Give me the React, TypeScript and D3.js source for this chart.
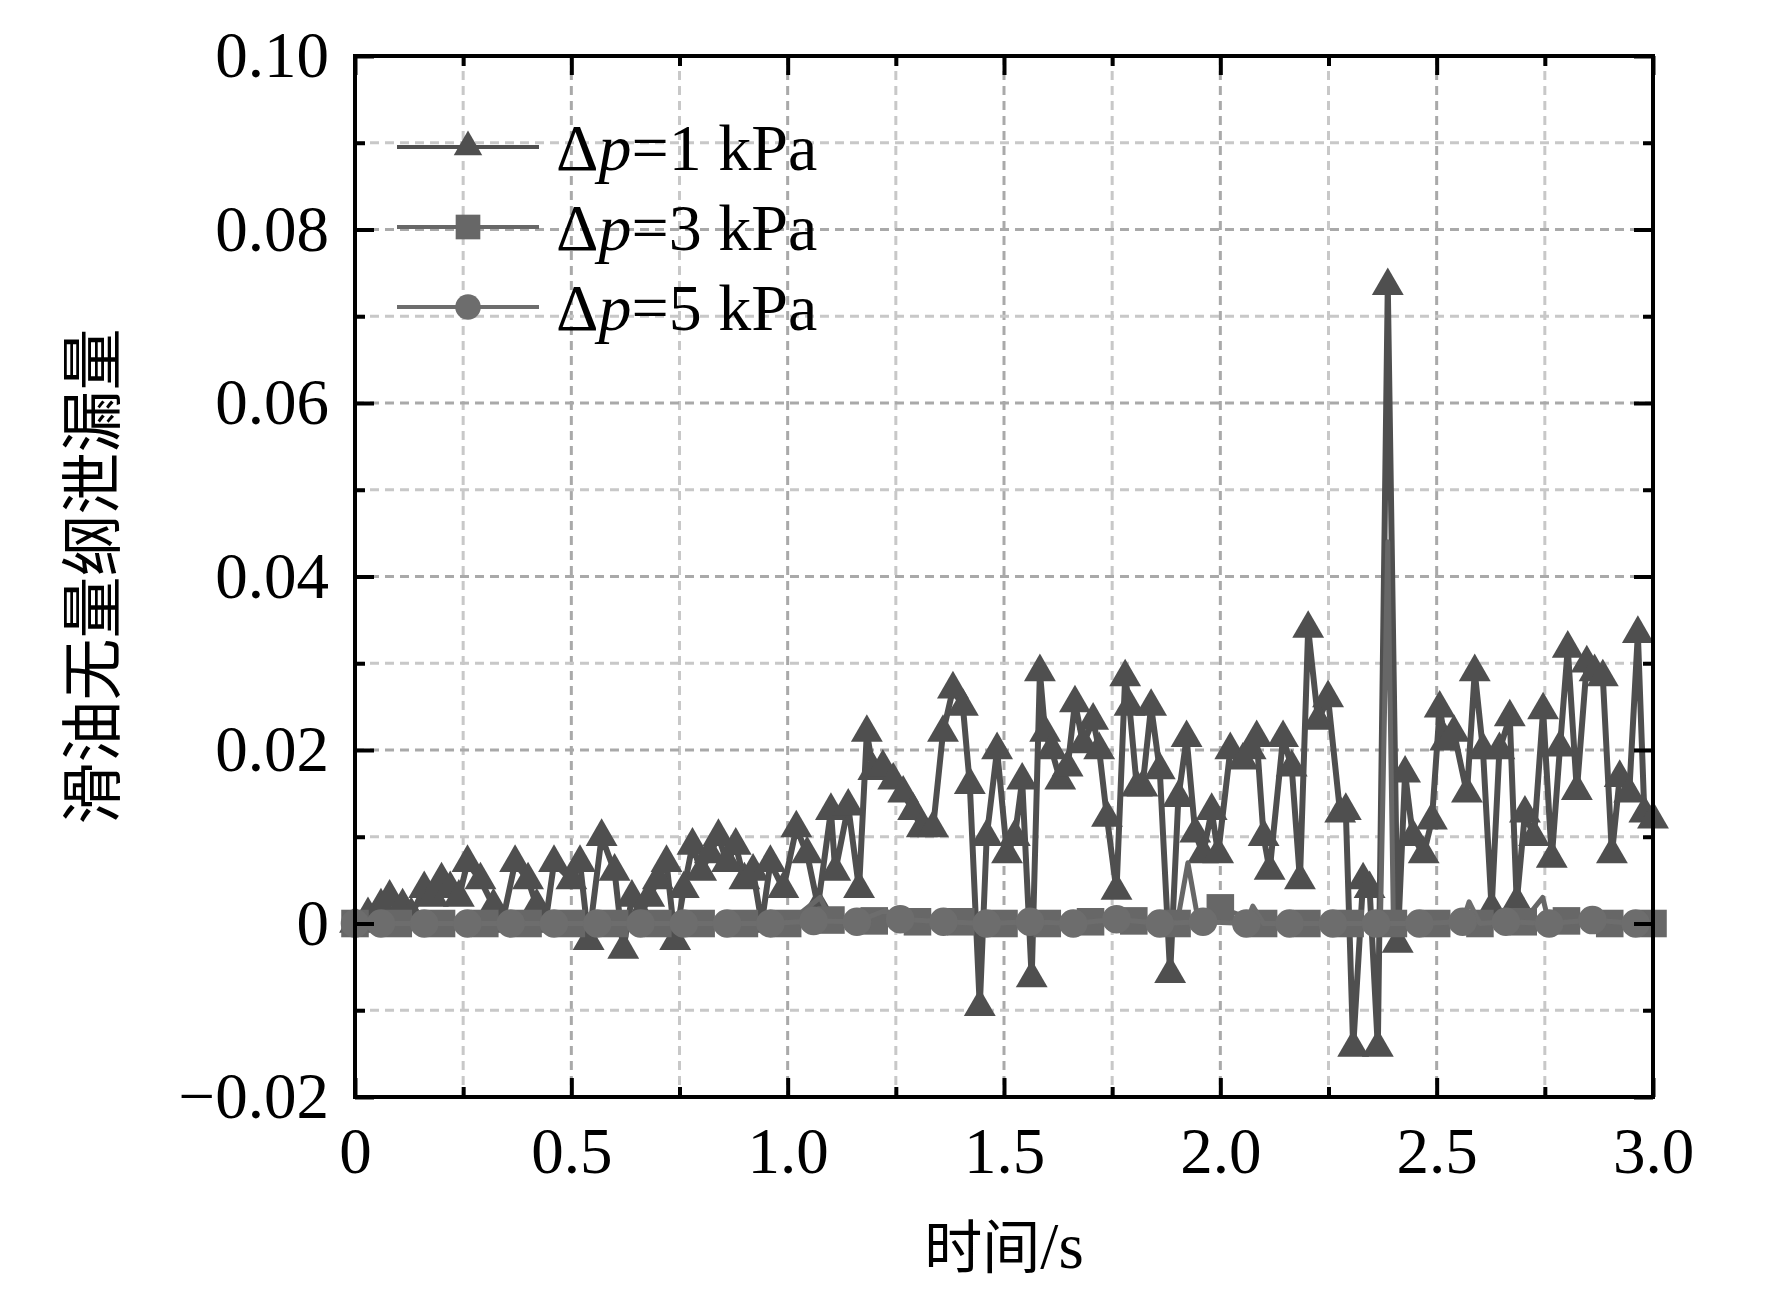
import {
  axisBottom,
  axisLeft,
  axisRight,
  axisTop,
  line as d3Line,
  scaleLinear,
  select,
  symbol,
  symbolCircle,
  symbolSquare,
  symbolTriangle,
} from "d3";
import { useEffect, useRef } from "react";

// [time (s), dimensionless oil leakage]
const dp1: [number, number][] = [
  [0, 0], [0.03, 0.001], [0.06, 0.002], [0.08, 0.003], [0.11, 0.002], [0.13, 0.001],
  [0.16, 0.004], [0.18, 0.003], [0.2, 0.005], [0.22, 0.004], [0.24, 0.003], [0.26, 0.007],
  [0.29, 0.005], [0.32, 0.002], [0.34, 0], [0.37, 0.007], [0.4, 0.005], [0.42, 0.002],
  [0.44, 0], [0.46, 0.007], [0.5, 0.005], [0.52, 0.007], [0.54, -0.002], [0.57, 0.01],
  [0.6, 0.006], [0.62, -0.003], [0.64, 0.003], [0.66, 0.001], [0.68, 0.003], [0.7, 0.005],
  [0.72, 0.007], [0.74, -0.002], [0.76, 0.004], [0.78, 0.009], [0.8, 0.006], [0.82, 0.008],
  [0.84, 0.01], [0.86, 0.007], [0.88, 0.009], [0.9, 0.005], [0.92, 0.006], [0.94, 0],
  [0.96, 0.007], [0.99, 0.004], [1.02, 0.011], [1.045, 0.008], [1.07, 0.002], [1.1, 0.013],
  [1.11, 0.006], [1.14, 0.0135], [1.165, 0.004], [1.183, 0.022], [1.198, 0.0176], [1.22, 0.018],
  [1.244, 0.0165], [1.267, 0.015], [1.29, 0.013], [1.31, 0.011], [1.336, 0.011], [1.359, 0.022],
  [1.382, 0.027], [1.405, 0.025], [1.421, 0.016], [1.444, -0.0096], [1.46, 0.01], [1.484, 0.02],
  [1.507, 0.008], [1.525, 0.01], [1.542, 0.0165], [1.564, -0.0063], [1.583, 0.029], [1.595, 0.022],
  [1.61, 0.02], [1.63, 0.0165], [1.647, 0.018], [1.664, 0.0254], [1.683, 0.0207], [1.706, 0.0234],
  [1.72, 0.02], [1.738, 0.0122], [1.76, 0.0038], [1.78, 0.0284], [1.79, 0.025], [1.807, 0.0157],
  [1.82, 0.0157], [1.84, 0.025], [1.86, 0.0177], [1.884, -0.0058], [1.903, 0.0145], [1.922, 0.0214],
  [1.942, 0.0104], [1.96, 0.008], [1.98, 0.013], [1.995, 0.008], [2.023, 0.02], [2.052, 0.0188],
  [2.07, 0.02], [2.084, 0.0214], [2.1, 0.01], [2.114, 0.0061], [2.145, 0.0214], [2.165, 0.018],
  [2.184, 0.005], [2.203, 0.034], [2.226, 0.0234], [2.249, 0.026], [2.277, 0.0127], [2.29, 0.013],
  [2.307, -0.0143], [2.33, 0.005], [2.345, 0.004], [2.364, -0.0143], [2.387, 0.0735], [2.41, -0.0023],
  [2.427, 0.0173], [2.445, 0.01], [2.47, 0.008], [2.489, 0.0119], [2.507, 0.0248], [2.52, 0.021],
  [2.54, 0.022], [2.57, 0.015], [2.588, 0.029], [2.607, 0.02], [2.627, 0.0017], [2.645, 0.02],
  [2.669, 0.0238], [2.685, 0.0024], [2.704, 0.0127], [2.725, 0.01], [2.746, 0.0246], [2.766, 0.0075],
  [2.785, 0.0203], [2.803, 0.0317], [2.824, 0.0153], [2.847, 0.03], [2.865, 0.029], [2.884, 0.0284],
  [2.905, 0.008], [2.923, 0.0168], [2.945, 0.015], [2.965, 0.0334], [2.98, 0.0127], [3.0, 0.012],
];

const dp3: [number, number][] = [
  [0, 0], [0.1, 0], [0.2, 0], [0.3, 0], [0.4, 0], [0.5, 0], [0.6, 0], [0.7, 0], [0.8, 0],
  [0.9, 0], [1.0, 0], [1.075, 0.003], [1.1, 0.0004], [1.2, 0.0003], [1.3, 0.0002], [1.4, 0.0002],
  [1.5, 0], [1.6, 0], [1.7, 0.0002], [1.8, 0.0003], [1.9, 0], [1.925, 0.007], [1.95, 0],
  [2.0, 0.0018], [2.1, 0], [2.2, 0], [2.3, 0], [2.37, 0], [2.387, 0.044], [2.4, 0], [2.5, 0],
  [2.6, 0], [2.7, 0.0002], [2.745, 0.003], [2.76, 0], [2.8, 0.0003], [2.9, 0], [3.0, 0],
];

const dp5: [number, number][] = [
  [0, 0], [0.06, 0], [0.16, 0], [0.26, 0], [0.36, 0], [0.46, 0], [0.56, 0], [0.66, 0],
  [0.76, 0], [0.86, 0], [0.96, 0], [1.06, 0.0003], [1.16, 0.0002], [1.225, 0.0015], [1.26, 0.0005],
  [1.36, 0.0002], [1.46, 0], [1.56, 0.0002], [1.66, 0], [1.76, 0.0005], [1.86, 0], [1.96, 0.0002],
  [2.06, 0], [2.075, 0.002], [2.1, 0], [2.16, 0], [2.26, 0], [2.36, 0], [2.46, 0], [2.56, 0.0002],
  [2.575, 0.0025], [2.6, 0], [2.66, 0.0002], [2.76, 0], [2.86, 0.0004], [2.96, 0],
];

const seriesLabels = ["1", "3", "5"];
const seriesColors = ["#4f4f4f", "#676767", "#6d6d6d"];
const xTickLabels = ["0", "0.5", "1.0", "1.5", "2.0", "2.5", "3.0"];
const xMajor = [0, 0.5, 1, 1.5, 2, 2.5, 3];
const xMinor = [0.25, 0.75, 1.25, 1.75, 2.25, 2.75];
const yTickLabels = ["\u22120.02", "0", "0.02", "0.04", "0.06", "0.08", "0.10"];
const yMajor = [-0.02, 0, 0.02, 0.04, 0.06, 0.08, 0.1];
const yMinor = [-0.01, 0.01, 0.03, 0.05, 0.07, 0.09];

const SERIF = "'Liberation Serif', 'Times New Roman', serif";
const CJK = "'Noto Sans CJK SC', sans-serif";

export default function App() {
  const svgRef = useRef<SVGSVGElement | null>(null);

  useEffect(() => {
    if (!svgRef.current) return;
    const svg = select(svgRef.current);
    svg.selectAll("*").remove();

    const width = 1772;
    const height = 1306;
    const plot = { left: 355, right: 1653, top: 56, bottom: 1097 };

    const x = scaleLinear().domain([0, 3]).range([plot.left, plot.right]);
    const y = scaleLinear().domain([-0.02, 0.1]).range([plot.bottom, plot.top]);

    svg.attr("width", width).attr("height", height).attr("viewBox", `0 0 ${width} ${height}`);
    svg.append("rect").attr("width", width).attr("height", height).attr("fill", "#fff");

    // grid
    const grid = svg.append("g");
    [...xMinor, ...xMajor.slice(1, -1)].forEach((v) => {
      grid
        .append("line")
        .attr("x1", x(v))
        .attr("x2", x(v))
        .attr("y1", plot.top)
        .attr("y2", plot.bottom)
        .attr("stroke", xMajor.includes(v) ? "#a9a9a9" : "#c8c8c8")
        .attr("stroke-width", 3)
        .attr("stroke-dasharray", "9 6");
    });
    [...yMinor, ...yMajor.slice(1, -1)].forEach((v) => {
      grid
        .append("line")
        .attr("x1", plot.left)
        .attr("x2", plot.right)
        .attr("y1", y(v))
        .attr("y2", y(v))
        .attr("stroke", yMajor.includes(v) ? "#a9a9a9" : "#c8c8c8")
        .attr("stroke-width", 3)
        .attr("stroke-dasharray", "9 6");
    });

    const lineGen = d3Line<[number, number]>()
      .x((d) => x(d[0]))
      .y((d) => y(d[1]));

    const onStep = (t: number, offset: number) => {
      const k = (t - offset) * 10;
      return Math.abs(k - Math.round(k)) < 1e-6;
    };

    const series = [
      { data: dp1, shape: symbolTriangle, size: 440, lw: 6, marks: dp1 },
      { data: dp3, shape: symbolSquare, size: 760, lw: 5, marks: dp3.filter((d) => onStep(d[0], 0)) },
      {
        data: dp5,
        shape: symbolCircle,
        size: 640,
        lw: 5,
        marks: dp5.filter((d) => onStep(d[0], 0.06) || d[0] === 0),
      },
    ];

    const plotArea = svg.append("g");
    series.forEach((s, i) => {
      plotArea
        .append("path")
        .datum(s.data)
        .attr("fill", "none")
        .attr("stroke", seriesColors[i])
        .attr("stroke-width", s.lw)
        .attr("stroke-linejoin", "round")
        .attr("d", lineGen);
      plotArea
        .append("g")
        .selectAll("path")
        .data(s.marks)
        .join("path")
        .attr("transform", (d) => `translate(${x(d[0])},${y(d[1])})`)
        .attr("d", symbol(s.shape, s.size)())
        .attr("fill", seriesColors[i]);
    });

    // ticks on all four sides, pointing inward
    const styleAxis = (g: any) => {
      g.select(".domain").remove();
      g.selectAll("line").attr("stroke", "#000").attr("stroke-width", 4);
      g.selectAll("text").attr("fill", "#000");
      g.attr("font-family", SERIF).attr("font-size", 65);
    };

    svg
      .append("g")
      .attr("transform", `translate(0,${plot.bottom})`)
      .call(
        axisBottom(x)
          .tickValues(xMajor)
          .tickSize(-19)
          .tickPadding(30)
          .tickFormat((_, i) => xTickLabels[i])
      )
      .call(styleAxis);
    svg
      .append("g")
      .attr("transform", `translate(0,${plot.bottom})`)
      .call(axisBottom(x).tickValues(xMinor).tickSize(-10).tickFormat(() => ""))
      .call(styleAxis);
    svg
      .append("g")
      .attr("transform", `translate(0,${plot.top})`)
      .call(axisTop(x).tickValues(xMajor).tickSize(-19).tickFormat(() => ""))
      .call(styleAxis);
    svg
      .append("g")
      .attr("transform", `translate(0,${plot.top})`)
      .call(axisTop(x).tickValues(xMinor).tickSize(-10).tickFormat(() => ""))
      .call(styleAxis);

    svg
      .append("g")
      .attr("transform", `translate(${plot.left},0)`)
      .call(
        axisLeft(y)
          .tickValues(yMajor)
          .tickSize(-19)
          .tickPadding(26)
          .tickFormat((_, i) => yTickLabels[i])
      )
      .call(styleAxis);
    svg
      .append("g")
      .attr("transform", `translate(${plot.left},0)`)
      .call(axisLeft(y).tickValues(yMinor).tickSize(-10).tickFormat(() => ""))
      .call(styleAxis);
    svg
      .append("g")
      .attr("transform", `translate(${plot.right},0)`)
      .call(axisRight(y).tickValues(yMajor).tickSize(-19).tickFormat(() => ""))
      .call(styleAxis);
    svg
      .append("g")
      .attr("transform", `translate(${plot.right},0)`)
      .call(axisRight(y).tickValues(yMinor).tickSize(-10).tickFormat(() => ""))
      .call(styleAxis);

    svg
      .append("rect")
      .attr("x", plot.left)
      .attr("y", plot.top)
      .attr("width", plot.right - plot.left)
      .attr("height", plot.bottom - plot.top)
      .attr("fill", "none")
      .attr("stroke", "#000")
      .attr("stroke-width", 4);

    // legend
    const legend = svg.append("g").attr("transform", "translate(397,147)");
    series.forEach((s, i) => {
      const row = legend.append("g").attr("transform", `translate(0,${i * 80})`);
      row
        .append("line")
        .attr("x1", 0)
        .attr("x2", 142)
        .attr("stroke", seriesColors[i])
        .attr("stroke-width", 4);
      row
        .append("path")
        .attr("transform", "translate(71,0)")
        .attr("d", symbol(s.shape, s.size * 0.8)())
        .attr("fill", seriesColors[i]);
      const label = row
        .append("text")
        .attr("x", 159)
        .attr("dy", "0.35em")
        .attr("font-family", SERIF)
        .attr("font-size", 66)
        .attr("fill", "#000");
      label.append("tspan").text("\u0394");
      label.append("tspan").attr("font-style", "italic").text("p");
      label.append("tspan").text(`=${seriesLabels[i]} kPa`);
    });

    // axis titles
    const xTitle = svg
      .append("text")
      .attr("x", (plot.left + plot.right) / 2)
      .attr("y", 1268)
      .attr("text-anchor", "middle")
      .attr("font-size", 58)
      .attr("fill", "#000");
    xTitle.append("tspan").attr("font-family", CJK).text("时间");
    xTitle.append("tspan").attr("font-family", SERIF).attr("font-size", 65).text("/s");

    svg
      .append("text")
      .attr("transform", `translate(88,${(plot.top + plot.bottom) / 2}) rotate(-90)`)
      .attr("text-anchor", "middle")
      .attr("dominant-baseline", "central")
      .attr("font-family", CJK)
      .attr("font-size", 62)
      .attr("fill", "#000")
      .text("滑油无量纲泄漏量");
  }, []);

  return (
    <svg
      ref={svgRef}
      style={{ position: "absolute", left: 0, top: 0, display: "block" }}
      role="img"
      aria-label="滑油无量纲泄漏量随时间变化"
    />
  );
}
